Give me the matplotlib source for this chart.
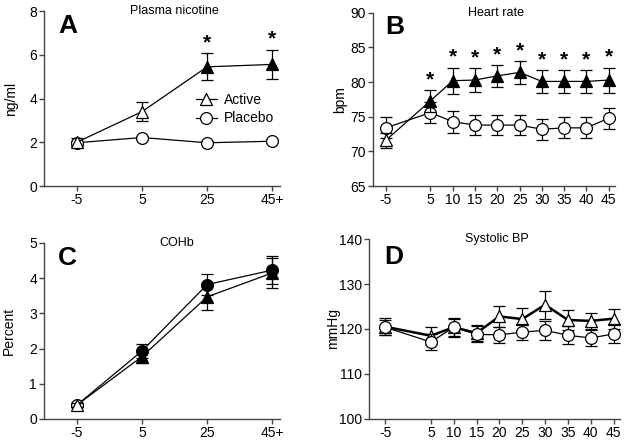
import matplotlib
matplotlib.use("Agg")
import matplotlib.pyplot as plt
import numpy as np

plt.rcParams['font.family'] = ['Liberation Sans', 'DejaVu Sans']
plt.rcParams['axes.unicode_minus'] = False

# Panel A / C categories
cat_ac = ["-5", "5", "25", "45+"]
# Panel B / D time points
time_bd = [-5, 5, 10, 15, 20, 25, 30, 35, 40, 45]

# A: Plasma nicotine (ng/ml)
nic_active = [2.0, 3.4, 5.45, 5.56]
nic_active_err = [0.18, 0.43, 0.61, 0.67]
nic_placebo = [1.98, 2.22, 1.98, 2.05]
nic_placebo_err = [0.08, 0.08, 0.06, 0.08]
nic_sig = [False, False, True, True]

# B: Heart rate (bpm)
hr_active = [71.6, 77.3, 80.2, 80.3, 80.9, 81.4, 80.1, 80.1, 80.1, 80.3]
hr_active_err = [1.1, 1.6, 1.9, 1.7, 1.6, 1.7, 1.6, 1.6, 1.7, 1.8]
hr_placebo = [73.4, 75.6, 74.3, 73.8, 73.8, 73.8, 73.2, 73.4, 73.4, 74.8]
hr_placebo_err = [1.5, 1.5, 1.6, 1.5, 1.5, 1.5, 1.5, 1.5, 1.5, 1.5]
hr_sig = [False, True, True, True, True, True, True, True, True, True]

# C: COHb (Percent)
co_active = [0.39, 1.77, 3.47, 4.15]
co_active_err = [0.05, 0.19, 0.38, 0.42]
co_placebo = [0.39, 1.93, 3.82, 4.23]
co_placebo_err = [0.05, 0.19, 0.31, 0.40]

# D: Systolic BP (mmHg)
bp_active = [120.5, 118.5, 120.4, 119.1, 122.8, 122.2, 125.4, 122.0, 121.8, 122.3]
bp_active_err = [1.9, 1.9, 2.1, 1.7, 2.4, 2.4, 3.1, 2.3, 1.7, 2.2]
bp_placebo = [120.4, 117.1, 120.4, 118.8, 118.7, 119.3, 119.7, 118.6, 118.0, 118.9]
bp_placebo_err = [1.7, 1.8, 1.9, 1.8, 1.8, 1.8, 2.1, 2.0, 1.8, 2.1]

fig = plt.figure(figsize=(6.25, 4.41), dpi=100)

axA = fig.add_axes([0.0704, 0.578, 0.378, 0.397])
axB = fig.add_axes([0.597, 0.578, 0.387, 0.393])
axC = fig.add_axes([0.0704, 0.050, 0.378, 0.399])
axD = fig.add_axes([0.590, 0.050, 0.402, 0.408])

MS_T = 9
MS_C = 8.5
CAP = 4.5
ELW = 0.9
AX_GRAY = '#444444'


def style(ax):
    for s in ['top', 'right']:
        ax.spines[s].set_visible(False)
    for s in ['left', 'bottom']:
        ax.spines[s].set_linewidth(1.0)
        ax.spines[s].set_color(AX_GRAY)
    ax.tick_params(direction='out', length=3.5, width=1.0, color=AX_GRAY,
                   labelsize=10, pad=1.5)


def series(ax, x, y, e, marker, filled_mask, ms, lw=0.9, z=3):
    ax.errorbar(x, y, yerr=e, fmt='none', ecolor='black', elinewidth=ELW,
                capsize=CAP, capthick=ELW, zorder=z)
    ax.plot(x, y, '-', color='black', lw=lw, zorder=z + 0.1)
    for xi, yi, f in zip(x, y, filled_mask):
        ax.plot([xi], [yi], marker=marker, ms=ms, mec='black', mew=0.9,
                mfc='black' if f else 'white', ls='none', zorder=z + 0.2)


def letter(ax, x, y, s):
    ax.text(x, y, s, transform=ax.transAxes, ha='left', va='top',
            fontsize=19, fontweight='bold')


# Panel A
style(axA)
xa = np.arange(len(cat_ac))
series(axA, xa, nic_placebo, nic_placebo_err, 'o', [False] * 4, MS_C, z=3)
series(axA, xa, nic_active, nic_active_err, '^', nic_sig, MS_T, z=4)
for xi, yi, ei, s in zip(xa, nic_active, nic_active_err, nic_sig):
    if s:
        axA.text(xi, yi + ei + 0.05, '*', ha='center', va='bottom',
                 fontsize=15, fontweight='bold')
axA.set_xlim(-0.5, 3.12)
axA.set_ylim(0, 8)
axA.set_yticks([0, 2, 4, 6, 8])
axA.set_xticks(xa)
axA.set_xticklabels(cat_ac)
axA.set_ylabel('ng/ml', fontsize=10)
axA.yaxis.set_label_coords(-0.108, 0.5)
axA.text(0.55, 1.0, 'Plasma nicotine', transform=axA.transAxes,
         ha='center', va='center', fontsize=9)
letter(axA, 0.06, 0.985, 'A')
hA1, = axA.plot([], [], '-', color='black', lw=0.9, marker='^', ms=MS_T,
                mfc='white', mec='black', mew=0.9)
hA2, = axA.plot([], [], '-', color='black', lw=0.9, marker='o', ms=MS_C,
                mfc='white', mec='black', mew=0.9)
axA.legend([hA1, hA2], ['Active', 'Placebo'], frameon=False, fontsize=10,
           loc='center left', bbox_to_anchor=(0.62, 0.44), handlelength=1.5,
           handletextpad=0.5, labelspacing=0.35, borderaxespad=0)

# Panel B
style(axB)
series(axB, time_bd, hr_placebo, hr_placebo_err, 'o', [False] * 10, MS_C, z=3)
series(axB, time_bd, hr_active, hr_active_err, '^', hr_sig, MS_T, z=4)
for xi, yi, ei, s in zip(time_bd, hr_active, hr_active_err, hr_sig):
    if s:
        axB.text(xi, yi + ei + 0.1, '*', ha='center', va='bottom',
                 fontsize=15, fontweight='bold')
axB.set_xlim(-7.85, 46.4)
axB.set_ylim(65, 90)
axB.set_yticks([65, 70, 75, 80, 85, 90])
axB.set_xticks(time_bd)
axB.set_ylabel('bpm', fontsize=10)
axB.yaxis.set_label_coords(-0.107, 0.5)
axB.text(0.51, 1.0, 'Heart rate', transform=axB.transAxes,
         ha='center', va='center', fontsize=9)
letter(axB, 0.05, 0.985, 'B')

# Panel C
style(axC)
series(axC, xa, co_placebo, co_placebo_err, 'o', [False, True, True, True], MS_C, z=3)
series(axC, xa, co_active, co_active_err, '^', [False, True, True, True], MS_T, z=4)
axC.set_xlim(-0.5, 3.12)
axC.set_ylim(0, 5)
axC.set_yticks([0, 1, 2, 3, 4, 5])
axC.set_xticks(xa)
axC.set_xticklabels(cat_ac)
axC.set_ylabel('Percent', fontsize=10)
axC.yaxis.set_label_coords(-0.12, 0.5)
axC.text(0.56, 1.0, 'COHb', transform=axC.transAxes,
         ha='center', va='center', fontsize=9)
letter(axC, 0.06, 0.985, 'C')

# Panel D
style(axD)
series(axD, time_bd, bp_placebo, bp_placebo_err, 'o', [False] * 10, MS_C, z=3)
series(axD, time_bd, bp_active, bp_active_err, '^', [False] * 10, MS_T, lw=1.8, z=2)
axD.set_xlim(-8.6, 46.4)
axD.set_ylim(100, 140)
axD.set_yticks([100, 110, 120, 130, 140])
axD.set_xticks(time_bd)
axD.set_ylabel('mmHg', fontsize=10)
axD.yaxis.set_label_coords(-0.114, 0.5)
axD.text(0.51, 1.0, 'Systolic BP', transform=axD.transAxes,
         ha='center', va='center', fontsize=9)
letter(axD, 0.06, 0.965, 'D')

fig.savefig('out.png', dpi=100)
